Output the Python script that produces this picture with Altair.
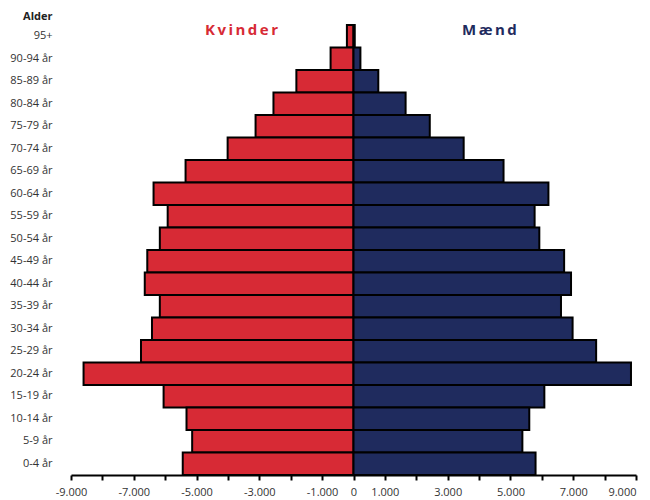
import altair as alt
import pandas as pd

ages = ["95+", "90-94 år", "85-89 år", "80-84 år", "75-79 år", "70-74 år",
        "65-69 år", "60-64 år", "55-59 år", "50-54 år", "45-49 år", "40-44 år",
        "35-39 år", "30-34 år", "25-29 år", "20-24 år", "15-19 år", "10-14 år",
        "5-9 år", "0-4 år"]
kvinder = [210, 730, 1820, 2550, 3120, 4010, 5350, 6370, 5920, 6170, 6570, 6650,
           6170, 6420, 6770, 8600, 6050, 5320, 5140, 5440]
maend = [40, 220, 790, 1660, 2430, 3510, 4780, 6210, 5770, 5920, 6710, 6930,
         6610, 6980, 7730, 8840, 6080, 5600, 5380, 5800]
tick_values = list(range(-9000, 9001, 1000))

rows = []
for a, k, m in zip(ages, kvinder, maend):
    rows.append({"Alder": a, "Køn": "Kvinder", "Antal": -k})
    rows.append({"Alder": a, "Køn": "Mænd", "Antal": m})
df = pd.DataFrame(rows)

RED = "#d72a35"
NAVY = "#1f2b5e"
FONT = "Open Sans"

x_scale = alt.Scale(domain=[-9000, 9000], nice=False)
y_scale = alt.Scale(domain=ages, paddingInner=0, paddingOuter=0)

label_expr = ("datum.value == 0 ? '0' : "
              "(abs(datum.value) % 2000 == 1000 ? "
              "((datum.value < 0 ? '-' : '') + replace(format(abs(datum.value), ','), ',', '.')) : '')")

x_axis = alt.Axis(values=tick_values, labelExpr=label_expr, title=None,
                  grid=False, domainColor="black", domainWidth=2,
                  tickColor="black", tickWidth=2, tickSize=5,
                  labelFont=FONT, labelFontSize=11, labelColor="#333",
                  labelPadding=6, labelFlush=False, labelOverlap=False,
                  labelBound=False,
                  labelAlign={"condition": {"test": "datum.value >= 9000", "value": "right"},
                              "value": "center"})
y_axis = alt.Axis(title="Alder", titleAngle=0, titleAlign="right",
                  titleBaseline="middle", titleX=-19, titleY=-9,
                  titleFont=FONT, titleFontSize=11, titleFontWeight="bold",
                  titleColor="#222",
                  domain=False, ticks=False, labelPadding=19,
                  labelFont=FONT, labelFontSize=11, labelColor="#333")
color = alt.Color("Køn:N", scale=alt.Scale(domain=["Kvinder", "Mænd"], range=[RED, NAVY]),
                  legend=None)

bars = alt.Chart(df).mark_bar(stroke="black", strokeWidth=2).encode(
    x=alt.X("Antal:Q", scale=x_scale, stack=None, axis=x_axis),
    y=alt.Y("Alder:N", scale=y_scale, axis=y_axis),
    color=color,
)

labels = pd.DataFrame({
    "tekst": ["K\u2009v\u2009i\u2009n\u2009d\u2009e\u2009r", "M\u2009æ\u2009n\u2009d"],
    "x": [-3570, 4330],
    "Alder": ["95+", "95+"],
    "Køn": ["Kvinder", "Mænd"],
})
text = alt.Chart(labels).mark_text(font=FONT, fontSize=15, fontWeight="bold", dy=-6).encode(
    x=alt.X("x:Q", scale=x_scale, axis=x_axis),
    y=alt.Y("Alder:N", scale=y_scale, axis=y_axis),
    text="tekst:N",
    color=color,
)

chart = alt.layer(bars, text).properties(
    width=565, height=450,
    padding={"left": 63, "top": 17, "right": 6, "bottom": 22},
    autosize=alt.AutoSizeParams(type="none"),
).configure_view(stroke=None)

chart.save("out.html", embed_options={"renderer": "svg", "actions": False})
